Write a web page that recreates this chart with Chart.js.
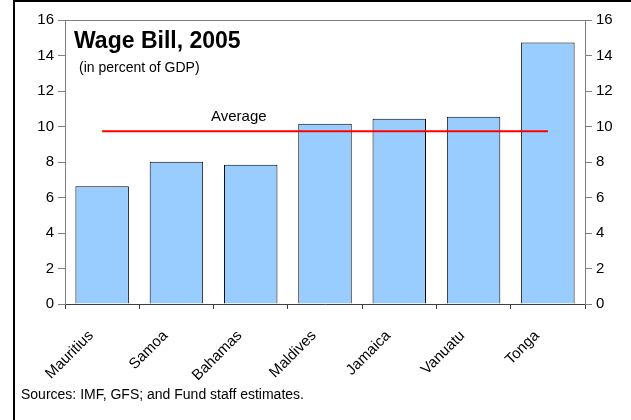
<!DOCTYPE html>
<html>
<head>
<meta charset="utf-8">
<script src="https://cdn.jsdelivr.net/npm/chart.js@4/dist/chart.umd.min.js"></script>
<style>
  html, body { margin: 0; padding: 0; background: #fff; }
</style>
</head>
<body>
<canvas id="wageChart" width="631" height="420"></canvas>
<script>
const countries = ['Mauritius', 'Samoa', 'Bahamas', 'Maldives', 'Jamaica', 'Vanuatu', 'Tonga'];
const wageBill = [6.63, 8.02, 7.85, 10.15, 10.43, 10.55, 14.73];
const averageValue = 9.73;
const yTicks = [0, 2, 4, 6, 8, 10, 12, 14, 16];

const FONT = 'Arial, "Liberation Sans", sans-serif';

// frame, titles, average label and source note
const decorations = {
  id: 'decorations',
  afterDraw(chart) {
    const { ctx, chartArea, scales } = chart;
    ctx.save();
    // outer frame (left and top edges only)
    ctx.fillStyle = '#000';
    ctx.fillRect(13, 0, 2, 420);
    ctx.fillRect(13, 0, 618, 2);
    // top edge of plot area
    ctx.strokeStyle = '#808080';
    ctx.lineWidth = 1;
    ctx.beginPath();
    ctx.moveTo(chartArea.left, chartArea.top + 0.5);
    ctx.lineTo(chartArea.right, chartArea.top + 0.5);
    ctx.stroke();

    ctx.fillStyle = '#000';
    ctx.textBaseline = 'alphabetic';
    ctx.textAlign = 'left';
    ctx.font = 'bold 23px ' + FONT;
    ctx.fillText('Wage Bill, 2005', 74, 48);
    ctx.font = '14px ' + FONT;
    ctx.fillText('(in percent of GDP)', 79, 72);

    // average label
    const x1 = scales.x.getPixelForValue(1);
    const x2 = scales.x.getPixelForValue(2);
    const ax = x1 + (x2 - x1) * 0.84;
    const ay = scales.y.getPixelForValue(averageValue) - 14;
    ctx.font = '15px ' + FONT;
    ctx.textAlign = 'center';
    ctx.textBaseline = 'middle';
    ctx.fillText('Average', ax, ay);

    ctx.font = '14px ' + FONT;
    ctx.textAlign = 'left';
    ctx.textBaseline = 'alphabetic';
    ctx.fillText('Sources: IMF, GFS; and Fund staff estimates.', 21, 399);
    ctx.restore();
  },
};

const yAxis = (position, width) => ({
  type: 'linear',
  position,
  min: 0,
  max: 16,
  afterBuildTicks(scale) {
    scale.ticks = yTicks.map((v) => ({ value: v }));
  },
  afterFit(scale) {
    scale.width = width;
  },
  border: { color: '#808080', width: 1 },
  grid: { drawOnChartArea: false, drawTicks: true, tickLength: 7, color: '#808080' },
  ticks: { color: '#000', font: { family: FONT, size: 15 }, padding: 4 },
});

new Chart(document.getElementById('wageChart'), {
  data: {
    labels: countries,
    datasets: [
      {
        type: 'line',
        data: countries.map(() => averageValue),
        borderColor: '#ff0000',
        borderWidth: 2,
        pointRadius: 0,
        order: 0,
      },
      {
        type: 'bar',
        data: wageBill,
        backgroundColor: '#99ccff',
        borderColor: '#000',
        borderWidth: 1,
        categoryPercentage: 1,
        barPercentage: 0.72,
        order: 1,
      },
    ],
  },
  options: {
    responsive: false,
    animation: false,
    devicePixelRatio: 1,
    layout: { padding: { top: 20, left: 0, right: 0, bottom: 0 } },
    plugins: {
      legend: { display: false },
      tooltip: { enabled: false },
    },
    scales: {
      x: {
        type: 'category',
        offset: true,
        afterFit(scale) {
          scale.height = 116;
        },
        border: { color: '#404040', width: 1 },
        grid: { offset: true, drawOnChartArea: false, drawTicks: true, tickLength: 5, color: '#404040' },
        ticks: {
          color: '#000',
          font: { family: FONT, size: 15 },
          minRotation: 45,
          maxRotation: 45,
          padding: 18,
          labelOffset: -11,
        },
      },
      y: yAxis('left', 65),
      y2: yAxis('right', 46),
    },
  },
  plugins: [decorations],
});
</script>
</body>
</html>
